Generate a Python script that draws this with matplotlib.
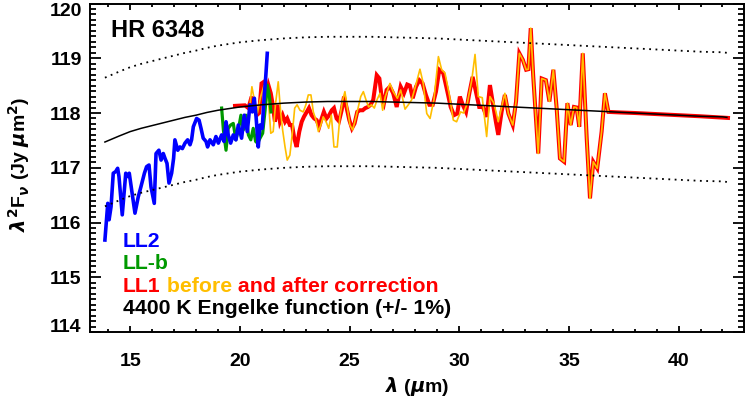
import numpy as np
import matplotlib
matplotlib.use('Agg')
import matplotlib.pyplot as plt
from matplotlib.ticker import MultipleLocator

plt.rcParams['font.family'] = ['Liberation Sans', 'DejaVu Sans']
plt.rcParams['font.weight'] = 'bold'
plt.rcParams['mathtext.fontset'] = 'dejavusans'

# 4400 K Engelke function
eng_x = [13.85, 14.5, 15, 15.5, 16, 16.5, 17, 17.5, 18, 18.5, 19, 19.5, 20, 21, 22,
         23, 24, 25, 26, 27, 28, 29, 30, 31, 32, 33, 34, 35, 36, 37, 38, 39, 40,
         41, 42, 42.2]
eng_y = [117.47, 117.58, 117.66, 117.72, 117.77, 117.82, 117.87, 117.92, 117.96,
         118.01, 118.05, 118.08, 118.11, 118.15, 118.18, 118.20, 118.21, 118.21,
         118.21, 118.20, 118.19, 118.18, 118.16, 118.14, 118.12, 118.10, 118.08,
         118.06, 118.04, 118.02, 118.00, 117.98, 117.96, 117.94, 117.93, 117.92]

# LL2 (blue)
ll2_x = [13.85, 13.98, 14.04, 14.13, 14.23, 14.34, 14.43, 14.49, 14.64, 14.80,
         14.89, 14.96, 15.22, 15.37, 15.49, 15.65, 15.75, 15.86, 15.95, 16.10,
         16.18, 16.31, 16.41, 16.51, 16.59, 16.68, 16.77, 16.89, 16.98, 17.04,
         17.17, 17.27, 17.38, 17.50, 17.62, 17.73, 17.80, 17.88, 18.03, 18.14,
         18.23, 18.33, 18.46, 18.53, 18.64, 18.79, 18.91, 19.02, 19.17, 19.28,
         19.37, 19.47, 19.58, 19.70, 19.82, 19.93, 20.08, 20.20, 20.34, 20.46,
         20.57, 20.66, 20.74, 20.84, 20.92, 21.02, 21.11, 21.18, 21.25]
ll2_y = [115.68, 116.35, 116.05, 116.29, 116.90, 116.93, 116.99, 116.84, 116.14, 116.90,
         116.84, 116.90, 116.17, 116.47, 116.65, 116.90, 117.02, 117.05, 116.65, 116.35,
         117.26, 117.32, 117.14, 117.26, 117.17, 117.08, 116.72, 116.90, 117.17, 117.51,
         117.32, 117.38, 117.35, 117.45, 117.51, 117.42, 117.51, 117.75, 117.90, 117.87,
         117.72, 117.54, 117.48, 117.38, 117.51, 117.42, 117.57, 117.45, 117.60, 117.48,
         117.84, 117.60, 117.45, 117.60, 117.51, 117.78, 117.54, 117.96, 117.66, 118.15,
         118.02, 118.27, 117.93, 117.38, 117.78, 117.72, 118.30, 118.66, 119.09]

# LL-b (green)
llb_x = [19.17, 19.25, 19.37, 19.47, 19.58, 19.70, 19.82, 19.93, 20.05, 20.16, 20.28,
         20.39, 20.50, 20.61, 20.72, 20.81, 20.92, 21.04, 21.15, 21.25, 21.34, 21.42]
llb_y = [118.09, 117.69, 117.32, 117.72, 117.78, 117.81, 117.51, 117.69, 117.96, 117.69,
         117.96, 117.60, 117.51, 117.72, 117.48, 117.45, 117.54, 117.63, 118.05, 118.51,
         118.33, 118.02]

# LL1 after correction (red)
ll1_x = [19.78, 20.23, 20.39, 20.54, 20.64, 20.77, 20.88, 20.99, 21.10, 21.19, 21.30,
         21.41, 21.50, 21.60, 21.72, 21.83, 21.95, 22.06, 22.16, 22.28, 22.38, 22.48,
         22.59, 22.71, 22.82, 22.92, 23.05, 23.15, 23.27, 23.39, 23.50, 23.62, 23.73,
         23.83, 23.95, 24.07, 24.19, 24.29, 24.41, 24.52, 24.64, 24.75, 24.87, 24.99,
         25.11, 25.23, 25.35, 25.47, 25.60, 25.72, 25.84, 25.96, 26.08, 26.24, 26.36,
         26.46, 26.57, 26.69, 26.84, 26.99, 27.15, 27.33, 27.48, 27.63, 27.75, 27.88,
         28.03, 28.18, 28.33, 28.48, 28.64, 28.79, 28.94, 29.09, 29.27, 29.46, 29.61,
         29.76, 29.91, 30.03, 30.16, 30.31, 30.46, 30.61, 30.76, 30.91, 31.08, 31.25,
         31.40, 31.52, 31.67, 31.78, 31.93, 32.08, 32.24, 32.44, 32.59, 32.74, 32.90,
         33.05, 33.15, 33.26, 33.37, 33.60, 33.76, 33.95, 34.11, 34.29, 34.44, 34.59,
         34.78, 34.93, 35.08, 35.23, 35.35, 35.47, 35.63, 35.81, 35.96, 36.11, 36.29,
         36.49, 36.64, 36.80, 37.33, 38.0, 39.0, 40.0, 41.0, 42.25]
ll1_y = [118.13, 118.14, 118.09, 118.30, 118.11, 117.96, 118.00, 118.54, 118.57, 118.33,
         118.51, 118.36, 118.15, 117.84, 118.15, 117.84, 117.96, 117.84, 117.90, 117.78,
         117.78, 117.54, 117.38, 117.66, 117.84, 117.93, 118.02, 118.09, 117.96, 117.90,
         117.87, 117.75, 117.90, 118.02, 117.90, 117.96, 118.05, 118.09, 117.90, 117.85,
         118.05, 118.30, 118.09, 117.87, 117.72, 117.81, 118.02, 118.05, 118.05, 118.09,
         118.11, 118.15, 118.24, 118.69, 118.63, 118.30, 118.18, 118.42, 118.48, 118.36,
         118.11, 118.48, 118.36, 118.52, 118.50, 118.27, 118.48, 118.60, 118.54, 118.33,
         118.15, 118.15, 118.39, 118.79, 118.73, 118.39, 118.11, 117.96, 117.99, 118.30,
         118.15, 118.02, 118.36, 118.66, 118.39, 118.11, 118.11, 117.93, 118.51, 118.21,
         117.84, 117.60, 118.02, 118.33, 117.99, 117.78, 118.21, 119.09, 118.97, 118.79,
         118.80, 119.55, 118.69, 117.26, 118.63, 118.60, 118.21, 118.79, 118.09, 117.17,
         117.11, 118.18, 117.78, 118.11, 118.10, 117.75, 119.09, 117.54, 116.44, 117.11,
         116.99, 117.66, 118.36, 118.02, 118.01, 118.00, 117.98, 117.96, 117.94, 117.91]

# LL1 before correction (orange)
ll1b_x = [20.10, 20.31, 20.45, 20.55, 20.66, 20.80, 20.95, 21.10, 21.20, 21.30, 21.41,
          21.52, 21.63, 21.75, 21.86, 21.95, 22.06, 22.16, 22.28, 22.40, 22.50, 22.61,
          22.74, 22.89, 23.01, 23.12, 23.24, 23.35, 23.47, 23.58, 23.69, 23.80, 23.93,
          24.05, 24.17, 24.29, 24.44, 24.56, 24.69, 24.79, 24.90, 25.02, 25.14, 25.26,
          25.40, 25.51, 25.63, 25.75, 25.87, 26.00, 26.13, 26.26, 26.39, 26.51, 26.63,
          26.84, 26.99, 27.18, 27.33, 27.53, 27.68, 27.83, 27.98, 28.21, 28.36, 28.52,
          28.67, 28.85, 29.05, 29.20, 29.35, 29.55, 29.73, 29.88, 30.06, 30.20, 30.37,
          30.57, 30.72, 30.87, 31.05, 31.25, 31.40, 31.58, 31.78, 32.08, 32.24, 32.44,
          32.59, 32.74, 32.90, 33.05, 33.15, 33.26, 33.37, 33.60, 33.76, 33.95, 34.11,
          34.29, 34.44, 34.59, 34.78, 34.93, 35.08, 35.23, 35.35, 35.47, 35.63, 35.81,
          35.96, 36.11, 36.29, 36.49, 36.64, 36.80]
ll1b_y = [117.90, 117.81, 118.10, 118.48, 118.24, 118.00, 118.30, 118.50, 118.40, 118.24,
          117.63, 117.66, 118.18, 118.57, 118.02, 117.69, 117.38, 117.14, 117.23, 117.66,
          118.09, 118.15, 118.05, 118.02, 118.15, 118.33, 118.33, 118.02, 117.87, 117.66,
          117.78, 117.93, 117.84, 117.72, 117.96, 117.38, 117.38, 117.93, 118.24, 118.39,
          118.09, 117.78, 117.69, 117.87, 118.11, 118.30, 118.39, 118.24, 118.11, 118.15,
          118.09, 118.25, 118.36, 118.05, 118.30, 118.54, 118.39, 118.27, 118.42, 118.07,
          118.15, 118.24, 118.45, 118.80, 118.54, 117.99, 117.90, 118.25, 119.03, 118.79,
          118.73, 118.33, 117.87, 117.84, 118.02, 118.00, 118.18, 118.60, 119.07, 118.30,
          118.28, 117.57, 118.30, 118.18, 117.84, 118.36, 117.99, 117.78, 118.21, 119.09,
          118.97, 118.79, 118.80, 119.55, 118.69, 117.26, 118.63, 118.60, 118.21, 118.79,
          118.09, 117.17, 117.11, 118.18, 117.78, 118.11, 118.10, 117.75, 119.09, 117.54,
          116.44, 117.11, 116.99, 117.66, 118.36, 118.02]

y_ticks = [114, 115, 116, 117, 118, 119, 120]
x_ticks = [15, 20, 25, 30, 35, 40]

blue = '#0000ff'
green = '#009900'
red = '#ff0000'
orange = '#ffbe00'

fig = plt.figure(figsize=(7.52, 4.05), dpi=100)
ax = fig.add_axes([90/752, 73/405, 654/752, 328.5/405])

eng = np.array(eng_y)
ax.plot(ll1_x, ll1_y, color=red, lw=2.9, solid_joinstyle='miter')
ax.plot(ll1b_x, ll1b_y, color=orange, lw=1.2)
ax.plot(llb_x, llb_y, color=green, lw=2.3)
ax.plot(ll2_x, ll2_y, color=blue, lw=2.6)
ax.plot(eng_x, eng, color='black', lw=1.1)
ax.plot(eng_x, eng*1.01, color='black', lw=1.3, ls=(0, (1, 2.5)))
ax.plot(eng_x, eng*0.99, color='black', lw=1.3, ls=(0, (1, 2.5)))

ax.set_xlim(13.17, 42.98)
ax.set_ylim(114, 120)
ax.set_xticks(x_ticks)
ax.set_yticks(y_ticks)
ax.xaxis.set_minor_locator(MultipleLocator(1))
ax.yaxis.set_minor_locator(MultipleLocator(0.1))
ax.tick_params(axis='both', which='both', direction='in', top=True, right=True,
               width=1.3, labelsize=14)
ax.tick_params(axis='x', which='major', length=4, pad=15)
ax.tick_params(axis='x', which='minor', length=2)
ax.tick_params(axis='y', which='major', length=8, pad=6)
ax.tick_params(axis='y', which='minor', length=4.3)
for s in ax.spines.values():
    s.set_linewidth(1.4)

# keep the end labels inside the box, like the original
ylabels = ax.get_yticklabels()
for lbl in ylabels:
    lbl.set_va('center_baseline')
ylabels[0].set_va('baseline')
ylabels[-1].set_va('top')

ax.set_xlabel(r'$\lambda$ ($\mu$m)', fontsize=14, fontweight='bold', labelpad=4)
ax.set_ylabel(r'$\lambda^{\mathbf{2}}$F$_\nu$ (Jy $\mu$m$^{\mathbf{2}}$)',
              fontsize=14, fontweight='bold')
ax.yaxis.set_label_coords(-0.088, 0.51)

ax.text(0.032, 0.899, 'HR 6348', transform=ax.transAxes, fontsize=17,
        fontweight='bold', va='baseline')

fs = 15.3
ax.text(0.0505, 0.2597, 'LL2', transform=ax.transAxes, color=blue, fontsize=fs,
        fontweight='bold', va='baseline')
ax.text(0.0505, 0.1909, 'LL-b', transform=ax.transAxes, color=green, fontsize=fs,
        fontweight='bold', va='baseline')
t1 = ax.text(0.0505, 0.1227, 'LL1', transform=ax.transAxes, color=red, fontsize=fs,
             fontweight='bold', va='baseline')
t2 = ax.annotate(' before', xy=(1, 0), xycoords=t1, color=orange, fontsize=fs,
                 fontweight='bold', va='bottom', ha='left')
ax.annotate(' and after correction', xy=(1, 0), xycoords=t2, color=red, fontsize=fs,
            fontweight='bold', va='bottom', ha='left')
ax.text(0.0505, 0.0548, '4400 K Engelke function (+/- 1%)', transform=ax.transAxes,
        color='black', fontsize=fs, fontweight='bold', va='baseline')

fig.savefig('out.png', dpi=100)
